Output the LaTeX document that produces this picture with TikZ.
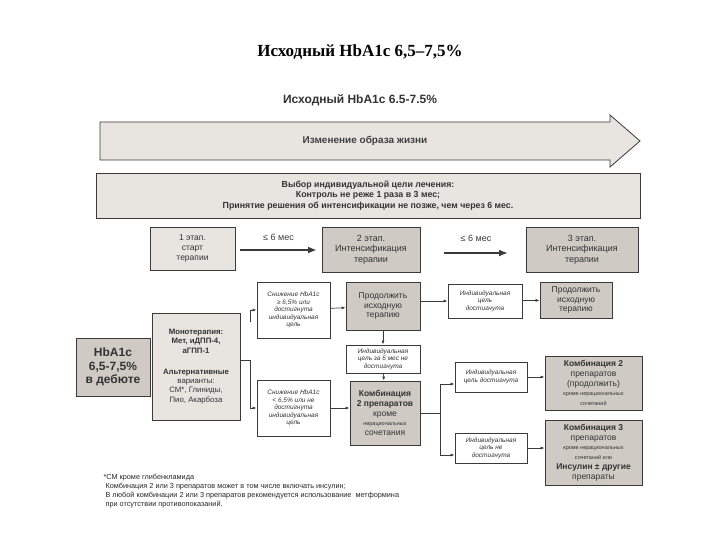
\documentclass[tikz,border=0pt]{standalone}
\usepackage{fontspec}
\setmainfont{Liberation Sans}
\newfontfamily\serifx{Liberation Serif}
\usetikzlibrary{arrows.meta}
\definecolor{lg}{HTML}{E8E5E1}
\definecolor{dg}{HTML}{CFCAC4}
\definecolor{ln}{HTML}{3A3A3A}
\begin{document}
\begin{tikzpicture}[x=1pt,y=-1pt,
  bx/.style={draw=ln,line width=0.8pt,align=center,inner sep=1pt,font=\fontsize{8.5}{9.8}\selectfont,text=black!80},
  lbox/.style={bx,fill=lg},
  gbox/.style={bx,fill=dg},
  wbox/.style={bx,fill=white,font=\fontsize{6.5}{7.5}\selectfont\itshape},
  ar/.style={-{Latex[length=4pt,width=3pt]},line width=0.7pt,ln},
  bigar/.style={-{Latex[length=9pt,width=7pt]},line width=2.6pt,ln}]
\useasboundingbox (0,0) rectangle (720,540);
\node (title) at (360,52) {\serifx\bfseries\fontsize{17}{19}\selectfont Исходный HbA1c 6,5–7,5\%};
\node (sub) at (360,100) {\bfseries\fontsize{12}{14}\selectfont\color{black!80}Исходный HbA1c 6.5-7.5\%};
% big arrow
\filldraw[fill=lg,draw=ln,line width=0.8pt] (100,122) -- (610,122) -- (610,115) -- (640,141) -- (610,167) -- (610,160) -- (100,160) -- cycle;
\node (life) at (365,141) {\bfseries\fontsize{10}{12}\selectfont\color{black!75}Изменение образа жизни};
\node[lbox,minimum width=544pt,minimum height=45pt,font=\bfseries\fontsize{8.8}{10.5}\selectfont] (goal) at (368,195.5) {Выбор индивидуальной цели лечения:\\Контроль не реже 1 раза в 3 мес;\\Принятие решения об интенсификации не позже, чем через 6 мес.};
% stages
\node[lbox,minimum width=85pt,minimum height=43pt] (s1) at (192.5,248.5) {1 этап.\\старт\\терапии};
\node[gbox,minimum width=98pt,minimum height=45pt,font=\fontsize{9}{10.5}\selectfont] (s2) at (371,249.5) {2 этап.\\Интенсификация\\терапии};
\node[gbox,minimum width=112pt,minimum height=45pt,font=\fontsize{9}{10.5}\selectfont] (s3) at (582,249.5) {3 этап.\\Интенсификация\\терапии};
\coordinate (a1s) at (240,250); \coordinate (a1e) at (317,250);
\draw[bigar] (a1s) -- (a1e) node[midway,above=5pt,font=\fontsize{9}{10}\selectfont] {≤ 6 мес};
\coordinate (a2s) at (444,253); \coordinate (a2e) at (508,253);
\draw[bigar] (a2s) -- (a2e) node[midway,above=7pt,font=\fontsize{9}{10}\selectfont] {≤ 6 мес};
% left
\node[gbox,minimum width=74pt,minimum height=58pt,font=\bfseries\fontsize{12}{13.5}\selectfont] (hb) at (113,367) {HbA1c\\6,5-7,5\%\\в дебюте};
\node[lbox,minimum width=88pt,minimum height=107pt,font=\fontsize{7.8}{9.3}\selectfont] (mono) at (196,366.5) {\textbf{Монотерапия:}\\\textbf{Мет, иДПП-4,}\\\textbf{аГПП-1}\\[12pt]\textbf{Альтернативные}\\варианты:\\СМ*, Глиниды,\\Пио, Акарбоза};
\node[wbox,minimum width=73pt,minimum height=56pt] (ra) at (293.5,310) {Снижение HbA1c\\≥ 6,5\% или\\достигнута\\индивидуальная\\цель};
\node[wbox,minimum width=73pt,minimum height=56pt] (rb) at (293.5,408) {Снижение HbA1c\\< 6,5\% или не\\достигнута\\индивидуальная\\цель};
\coordinate (mb) at (250,360);
\draw[line width=0.7pt,ln] (mono.east |- mb) -- (mb);
\draw[ar] (250,322) -- (250,310) -- (ra.west);
\draw[ar] (mb) -- (250,408) -- (rb.west);
% middle
\node[gbox,minimum width=74pt,minimum height=48pt] (cont) at (383,306) {Продолжить\\исходную\\терапию};
\node[wbox,minimum width=74pt,minimum height=28pt] (nr) at (383,359) {Индивидуальная\\цель за 6 мес не\\достигнута};
\node[gbox,minimum width=70pt,minimum height=64pt] (c3) at (385,413) {\textbf{Комбинация}\\\textbf{2 препаратов}\\кроме\\{\fontsize{5.5}{6.5}\selectfont нерациональных}\\сочетания};
\draw[ar] (ra) -- (cont);
\draw[ar] (cont) -- (nr);
\draw[ar] (nr) -- (c3);
\draw[ar] (rb) -- (c3.west |- rb);
% right
\node[wbox,minimum width=74pt,minimum height=34pt] (t1) at (485,301) {Индивидуальная\\цель\\достигнута};
\node[gbox,minimum width=72pt,minimum height=36pt] (p3) at (576,300) {Продолжить\\исходную\\терапию};
\draw[ar] (cont.east |- t1) -- (t1);
\draw[ar] (t1) -- (p3);
\node[wbox,minimum width=72pt,minimum height=30pt] (t2) at (491,377) {Индивидуальная\\цель достигнута};
\node[wbox,minimum width=72pt,minimum height=30pt] (t3) at (491,448) {Индивидуальная\\цель не\\достигнута};
\coordinate (cb) at (440,413);
\draw[line width=0.7pt,ln] (c3.east |- cb) -- (cb);
\draw[ar] (cb) -- (440,384) -- (t2.west |- 440,384);
\draw[ar] (cb) -- (440,455) -- (t3.west |- 440,455);
\node[gbox,minimum width=97pt,minimum height=54pt] (k2) at (593.5,383) {\textbf{Комбинация 2}\\препаратов\\(продолжить)\\{\fontsize{5.5}{6.5}\selectfont кроме нерациональных}\\{\fontsize{5.5}{6.5}\selectfont сочетаний}};
\node[gbox,minimum width=97pt,minimum height=65pt] (k3) at (593.5,452.5) {\textbf{Комбинация 3}\\препаратов\\{\fontsize{5.5}{6.5}\selectfont кроме нерациональных}\\{\fontsize{5.5}{6.5}\selectfont сочетаний или}\\\textbf{Инсулин ± другие}\\препараты};
\draw[ar] (t2) -- (k2.west |- t2);
\draw[ar] (t3) -- (k3.west |- t3);
% footnote
\node[anchor=north west,align=left,font=\fontsize{7.3}{8.8}\selectfont,text=black!85] (fn) at (100,471) {*СМ кроме глибенкламида\\ \ Комбинация 2 или 3 препаратов может в том числе включать инсулин;\\ \ В любой комбинации 2 или 3 препаратов рекомендуется использование \ метформина\\ \ при отсутствии противопоказаний.};
\end{tikzpicture}
\end{document}
